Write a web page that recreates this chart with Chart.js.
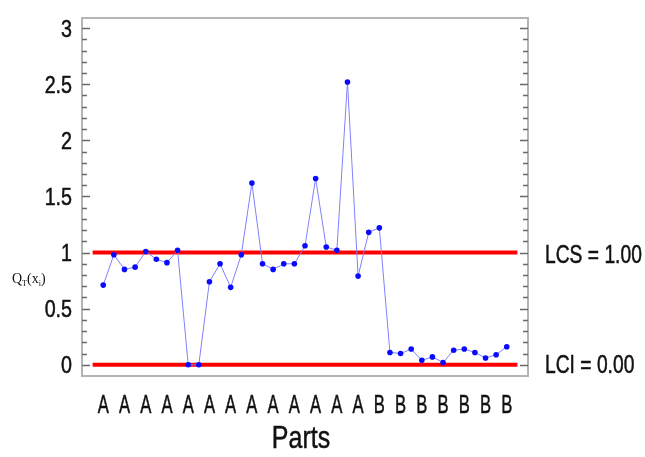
<!DOCTYPE html>
<html>
<head>
<meta charset="utf-8">
<script src="https://cdn.jsdelivr.net/npm/chart.js@4.4.1/dist/chart.umd.min.js"></script>
<style>
  html, body { margin: 0; padding: 0; background: #fff; }
  canvas { display: block; }
</style>
</head>
<body>
<canvas id="qChart" width="645" height="457"></canvas>
<script>
// Q_T(x_i) values, one per part
const qValues = [0.71, 0.98, 0.85, 0.87, 1.01, 0.94, 0.91, 1.02, 0.00, 0.00,
                 0.74, 0.90, 0.69, 0.98, 1.62, 0.90, 0.85, 0.90, 0.90, 1.06,
                 1.66, 1.05, 1.02, 2.52, 0.79, 1.18, 1.22, 0.11, 0.10, 0.14,
                 0.04, 0.07, 0.02, 0.13, 0.14, 0.11, 0.06, 0.09, 0.16];
// labels shown under every second part
const partLabels = ['A','A','A','A','A','A','A','A','A','A','A','A','A',
                    'B','B','B','B','B','B','B'];
const yTickValues = [0, 0.5, 1, 1.5, 2, 2.5, 3];
const lcs = 1.00;
const lci = 0.00;
const limitSpan = [0, 40];

const FONT = "'Liberation Sans', Arial, sans-serif";

(function() {
    'use strict';

    const points = qValues.map((v, i) => ({ x: i + 1, y: v }));
    const limitLine = y => limitSpan.map(x => ({ x, y }));

    // the original uses a narrow face: squeeze Liberation Sans horizontally
    function narrowText(ctx, text, x, y, size, squeeze, align) {
        ctx.save();
        ctx.font = size + 'px ' + FONT;
        const w = ctx.measureText(text).width * squeeze;
        let left = x;
        if (align === 'right') left = x - w;
        else if (align === 'center') left = x - w / 2;
        ctx.translate(left, y);
        ctx.scale(squeeze, 1);
        ctx.textAlign = 'left';
        ctx.textBaseline = 'alphabetic';
        ctx.fillText(text, 0, 0);
        ctx.strokeStyle = ctx.fillStyle;
        ctx.lineWidth = 0.5;
        ctx.strokeText(text, 0, 0);
        ctx.restore();
    }

    // frame, inner tick marks and all texts
    const decor = {
        id: 'decor',
        beforeDatasetsDraw(chart) {
            const { ctx, chartArea: a, scales: { y } } = chart;
            ctx.save();
            ctx.strokeStyle = '#b4b4b4';
            ctx.lineWidth = 2;
            ctx.strokeRect(a.left, a.top, a.right - a.left, a.bottom - a.top);
            ctx.strokeStyle = '#6a6a6a';
            ctx.lineWidth = 1.5;
            for (let k = 0; k <= 30; k++) {
                const py = Math.round(y.getPixelForValue(k / 10)) + 0.5;
                const len = k % 5 === 0 ? 8 : 5;
                ctx.beginPath();
                ctx.moveTo(a.left, py); ctx.lineTo(a.left + len, py);
                ctx.moveTo(a.right, py); ctx.lineTo(a.right - len, py);
                ctx.stroke();
            }
            ctx.restore();
        },
        afterDraw(chart) {
            const { ctx, chartArea: a, scales: { x, y } } = chart;
            ctx.save();
            ctx.fillStyle = '#111';

            yTickValues.forEach(v => {
                narrowText(ctx, String(v), a.left - 10, y.getPixelForValue(v) + 8.5, 24, 0.82, 'right');
            });
            partLabels.forEach((t, i) => {
                narrowText(ctx, t, x.getPixelForValue(1 + 2 * i), a.bottom + 37, 26, 0.64, 'center');
            });
            narrowText(ctx, 'Parts', (a.left + a.right) / 2 - 4, a.bottom + 72, 32, 0.78, 'center');

            narrowText(ctx, 'LCS = ' + lcs.toFixed(2), a.right + 17, y.getPixelForValue(lcs) + 10, 25, 0.77, 'left');
            narrowText(ctx, 'LCI = ' + lci.toFixed(2), a.right + 17, y.getPixelForValue(lci) + 8, 25, 0.77, 'left');

            // y title Q_T(x_i) with subscripts
            ctx.textBaseline = 'alphabetic';
            let tx = 12;
            const base = 283;
            const part = (t, size, dy) => {
                ctx.font = size + "px 'Liberation Serif', serif";
                ctx.fillText(t, tx, base + dy);
                tx += ctx.measureText(t).width;
            };
            part('Q', 14, 0);
            part('T', 8, 3);
            part('(x', 14, 0);
            part('i', 8, 3);
            part(')', 14, 0);
            ctx.restore();
        }
    };

    new Chart(document.getElementById('qChart'), {
        type: 'line',
        data: {
            datasets: [
                { data: limitLine(lcs), borderColor: '#ff0000', borderWidth: 4, pointRadius: 0, order: 2 },
                { data: limitLine(lci), borderColor: '#ff0000', borderWidth: 4, pointRadius: 0, order: 2 },
                {
                    data: points,
                    borderColor: '#8080ff',
                    borderWidth: 1,
                    pointRadius: 2.8,
                    pointBackgroundColor: '#0a0aff',
                    pointBorderWidth: 0,
                    order: 1
                }
            ]
        },
        options: {
            responsive: false,
            animation: false,
            devicePixelRatio: 1,
            layout: { padding: { top: 18, right: 117, left: 0, bottom: 0 } },
            plugins: { legend: { display: false }, tooltip: { enabled: false } },
            scales: {
                x: {
                    type: 'linear',
                    min: -1,
                    max: 41,
                    grid: { display: false, drawTicks: false },
                    border: { display: false },
                    ticks: { display: false },
                    afterFit: s => { s.height = 81; }
                },
                y: {
                    min: -0.1,
                    max: 3.09,
                    grid: { display: false, drawTicks: false },
                    border: { display: false },
                    ticks: { display: false },
                    afterFit: s => { s.width = 82; }
                }
            }
        },
        plugins: [decor]
    });
})();
</script>
</body>
</html>
